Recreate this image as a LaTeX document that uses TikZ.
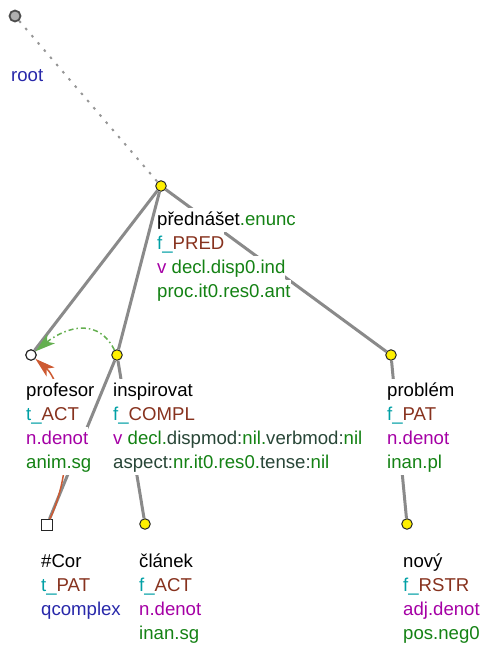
\documentclass[tikz,border=0pt]{standalone}
\usepackage{fontspec}
\setmainfont{Liberation Sans}
\usetikzlibrary{arrows.meta}
\definecolor{edgegray}{RGB}{138,138,138}
\definecolor{dotgray}{RGB}{150,150,150}
\definecolor{fcol}{RGB}{0,160,165}
\definecolor{funcol}{RGB}{135,50,30}
\definecolor{poscol}{RGB}{165,0,165}
\definecolor{gramcol}{RGB}{20,130,20}
\definecolor{keycol}{RGB}{40,70,55}
\definecolor{bluecol}{RGB}{40,40,170}
\definecolor{nodeyellow}{RGB}{255,240,0}
\definecolor{corgreen}{RGB}{100,175,80}
\definecolor{corred}{RGB}{205,90,50}
\definecolor{rootgray}{RGB}{175,175,175}
\begin{document}
\begin{tikzpicture}[x=1pt,y=-1pt,
  ynode/.style={circle,draw=black!85,line width=1pt,fill=nodeyellow,minimum size=10.5pt,inner sep=0pt},
  wnode/.style={circle,draw=black!85,line width=1.2pt,fill=white,minimum size=10.5pt,inner sep=0pt},
  rnode/.style={circle,draw=black!70,line width=1.8pt,fill=rootgray,minimum size=11pt,inner sep=0pt},
  snode/.style={rectangle,draw=black!85,line width=1pt,fill=white,minimum size=11pt,inner sep=0pt},
  edge/.style={draw=edgegray,line width=3pt},
  rootedge/.style={draw=dotgray,line width=2pt,dash pattern=on 2.5pt off 7pt},
  lbl/.style={anchor=base west,fill=white,inner xsep=0pt,inner ysep=0pt,text height=17pt,text depth=6.5pt,font=\fontsize{18.6}{24}\selectfont},
  gcor/.style={draw=corgreen,line width=1.5pt,dash pattern=on 5pt off 3pt on 1.5pt off 3pt,-{Stealth[length=20pt,width=12pt,inset=5pt]}},
  tcor/.style={draw=corred,line width=1.5pt,-{Stealth[length=20pt,width=12pt,inset=5pt]}}
]
\useasboundingbox (0,0) rectangle (484,645);

% tree nodes
\node[rnode] (root) at (15,16) {};
\node[ynode] (pred) at (161,186) {};
\node[wnode] (prof) at (31,355) {};
\node[ynode] (insp) at (117,355) {};
\node[ynode] (probl) at (391,355) {};
\node[snode] (cor) at (47,525) {};
\node[ynode] (clan) at (145,524) {};
\node[ynode] (novy) at (407,524) {};

% edges
\draw[rootedge] (root) -- (pred);
\draw[edge] (pred) -- (prof);
\draw[edge] (pred) -- (insp);
\draw[edge] (pred) -- (probl);
\draw[edge] (insp) -- (cor);
\draw[edge] (insp) -- (clan);
\draw[edge] (probl) -- (novy);

% coreference arrows
\draw[gcor] (insp) .. controls (95,312) and (58,333) .. (prof);
\draw[tcor] (cor) .. controls (80,455) and (61,381) .. (prof);

% labels
\node[lbl,text=bluecol] (rootl1) at (11,81) {root};

\node[lbl] (predl1) at (157,225) {přednášet\textcolor{gramcol}{.enunc}};
\node[lbl] (predl2) at (157,249) {\textcolor{fcol}{f\_}\textcolor{funcol}{PRED}};
\node[lbl] (predl3) at (157,273) {\textcolor{poscol}{v} \textcolor{gramcol}{decl.disp0.ind}};
\node[lbl] (predl4) at (157,297) {\textcolor{gramcol}{proc.it0.res0.ant}};

\node[lbl] (profl1) at (26,396) {profesor};
\node[lbl] (profl2) at (26,420) {\textcolor{fcol}{t\_}\textcolor{funcol}{ACT}};
\node[lbl] (profl3) at (26,444) {\textcolor{poscol}{n.denot}};
\node[lbl] (profl4) at (26,468) {\textcolor{gramcol}{anim.sg}};

\node[lbl] (inspl1) at (113,396) {inspirovat};
\node[lbl] (inspl2) at (113,420) {\textcolor{fcol}{f\_}\textcolor{funcol}{COMPL}};
\node[lbl] (inspl3) at (113,444) {\textcolor{poscol}{v} \textcolor{gramcol}{decl.}\textcolor{keycol}{dispmod:}\textcolor{gramcol}{nil.}\textcolor{keycol}{verbmod:}\textcolor{gramcol}{nil}};
\node[lbl] (inspl4) at (113,468) {\textcolor{keycol}{aspect:}\textcolor{gramcol}{nr.it0.res0.}\textcolor{keycol}{tense:}\textcolor{gramcol}{nil}};

\node[lbl] (probll1) at (387,396) {problém};
\node[lbl] (probll2) at (387,420) {\textcolor{fcol}{f\_}\textcolor{funcol}{PAT}};
\node[lbl] (probll3) at (387,444) {\textcolor{poscol}{n.denot}};
\node[lbl] (probll4) at (387,468) {\textcolor{gramcol}{inan.pl}};

\node[lbl] (corl1) at (41,567) {\#Cor};
\node[lbl] (corl2) at (41,591) {\textcolor{fcol}{t\_}\textcolor{funcol}{PAT}};
\node[lbl] (corl3) at (41,615) {\textcolor{bluecol}{qcomplex}};

\node[lbl] (clanl1) at (139,567) {článek};
\node[lbl] (clanl2) at (139,591) {\textcolor{fcol}{f\_}\textcolor{funcol}{ACT}};
\node[lbl] (clanl3) at (139,615) {\textcolor{poscol}{n.denot}};
\node[lbl] (clanl4) at (139,639) {\textcolor{gramcol}{inan.sg}};

\node[lbl] (novyl1) at (403,567) {nový};
\node[lbl] (novyl2) at (403,591) {\textcolor{fcol}{f\_}\textcolor{funcol}{RSTR}};
\node[lbl] (novyl3) at (403,615) {\textcolor{poscol}{adj.denot}};
\node[lbl] (novyl4) at (403,639) {\textcolor{gramcol}{pos.neg0}};
\end{tikzpicture}
\end{document}
